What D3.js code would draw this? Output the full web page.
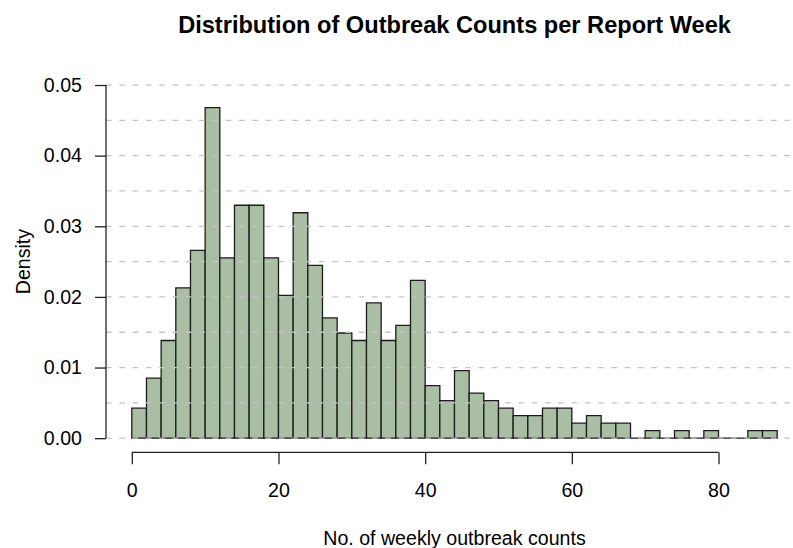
<!DOCTYPE html>
<html>
<head>
<meta charset="utf-8">
<script src="https://cdn.jsdelivr.net/npm/d3@7"></script>
<style>
  html, body { margin: 0; padding: 0; background: #ffffff; }
  svg { display: block; }
  text { font-family: "Liberation Sans", Arial, Helvetica, sans-serif; fill: #000; }
</style>
</head>
<body>
<svg id="chart" width="793" height="548"></svg>
<script>
// Histogram of weekly outbreak counts (bins of width 2)
const binStarts = [0, 2, 4, 6, 8, 10, 12, 14, 16, 18, 20, 22, 24, 26, 28, 30, 32, 34, 36, 38, 40, 42,
                   44, 46, 48, 50, 52, 54, 56, 58, 60, 62, 64, 66, 68, 70, 72, 74, 76, 78, 80, 82, 84, 86];
const binWidth = 2;
const weekCounts = [4, 8, 13, 20, 25, 44, 24, 31, 31, 24, 19, 30, 23, 16, 14, 13, 18, 13, 15, 21, 7, 5,
                    9, 6, 5, 4, 3, 3, 4, 4, 2, 3, 2, 2, 0, 1, 0, 1, 0, 1, 0, 0, 1, 1];
const xTicks = [0, 20, 40, 60, 80];
const yTicks = [0.00, 0.01, 0.02, 0.03, 0.04, 0.05];
const gridLevels = [0, 0.005, 0.01, 0.015, 0.02, 0.025, 0.03, 0.035, 0.04, 0.045, 0.05];

const totalWeeks = d3.sum(weekCounts);
const bins = binStarts.map((s, i) => ({
  x0: s,
  x1: s + binWidth,
  density: weekCounts[i] / (totalWeeks * binWidth)
}));

const svg = d3.select("#chart");

// plot region (axis ranges padded 4% on each side)
const plotLeft = 106, plotRight = 803, plotTop = 70.9, plotBottom = 452.3;
const x = d3.scaleLinear().domain([-3.52, 91.52]).range([plotLeft, plotRight]);
const y = d3.scaleLinear().domain([-0.002, 0.052]).range([plotBottom, plotTop]);

const fontSize = 19.6;

// bars
svg.append("g")
  .selectAll("path")
  .data(bins)
  .join("path")
  .attr("d", d => {
    const xa = x(d.x0), xb = x(d.x1), y0 = y(0), y1 = y(d.density);
    return `M${xa},${y0}L${xa},${y1}L${xb},${y1}L${xb},${y0}Z`;
  })
  .attr("fill", "#a9bea3")
  .attr("stroke", "#1c1c1c")
  .attr("stroke-width", 1.3);

// dashed horizontal reference lines
svg.append("clipPath").attr("id", "plotclip")
  .append("rect").attr("x", plotLeft).attr("y", 0)
  .attr("width", plotRight - plotLeft).attr("height", 548);

svg.append("g")
  .attr("clip-path", "url(#plotclip)")
  .selectAll("line")
  .data(gridLevels)
  .join("line")
  .attr("x1", plotLeft)
  .attr("x2", plotRight)
  .attr("y1", d => y(d))
  .attr("y2", d => y(d))
  .attr("stroke", "#c4c4c4")
  .attr("stroke-width", 1.3)
  .attr("stroke-dasharray", "5.6,7.7");

// y axis
const yAxis = d3.axisLeft(y)
  .tickValues(yTicks)
  .tickFormat(d3.format(".2f"))
  .tickSize(11)
  .tickPadding(13);
const gy = svg.append("g").attr("transform", `translate(${plotLeft},0)`).call(yAxis);
gy.select(".domain").remove();
gy.append("line")
  .attr("x1", 0).attr("x2", 0)
  .attr("y1", y(0.05)).attr("y2", y(0))
  .attr("stroke", "#222").attr("stroke-width", 1.3);
gy.selectAll(".tick line").attr("stroke", "#222").attr("stroke-width", 1.3);
gy.selectAll(".tick text")
  .attr("font-size", fontSize)
  .attr("font-family", "Liberation Sans, Arial, sans-serif")
  .attr("fill", "#000");

// x axis
const xAxis = d3.axisBottom(x)
  .tickValues(xTicks)
  .tickSize(12)
  .tickPadding(18.5);
const gx = svg.append("g").attr("transform", `translate(0,${plotBottom})`).call(xAxis);
gx.select(".domain").remove();
gx.append("line")
  .attr("x1", x(0)).attr("x2", x(80))
  .attr("y1", 0).attr("y2", 0)
  .attr("stroke", "#222").attr("stroke-width", 1.3);
gx.selectAll(".tick line").attr("stroke", "#222").attr("stroke-width", 1.3);
gx.selectAll(".tick text")
  .attr("font-size", fontSize)
  .attr("font-family", "Liberation Sans, Arial, sans-serif")
  .attr("fill", "#000");

const midX = (plotLeft + plotRight) / 2;

// title
svg.append("text")
  .attr("x", midX)
  .attr("y", 32.5)
  .attr("text-anchor", "middle")
  .attr("font-size", 23.6)
  .attr("font-weight", "bold")
  .text("Distribution of Outbreak Counts per Report Week");

// axis titles
svg.append("text")
  .attr("x", midX)
  .attr("y", 545)
  .attr("text-anchor", "middle")
  .attr("font-size", fontSize)
  .text("No. of weekly outbreak counts");

svg.append("text")
  .attr("transform", `translate(29.5,${(plotTop + plotBottom) / 2}) rotate(-90)`)
  .attr("text-anchor", "middle")
  .attr("font-size", fontSize)
  .text("Density");
</script>
</body>
</html>
